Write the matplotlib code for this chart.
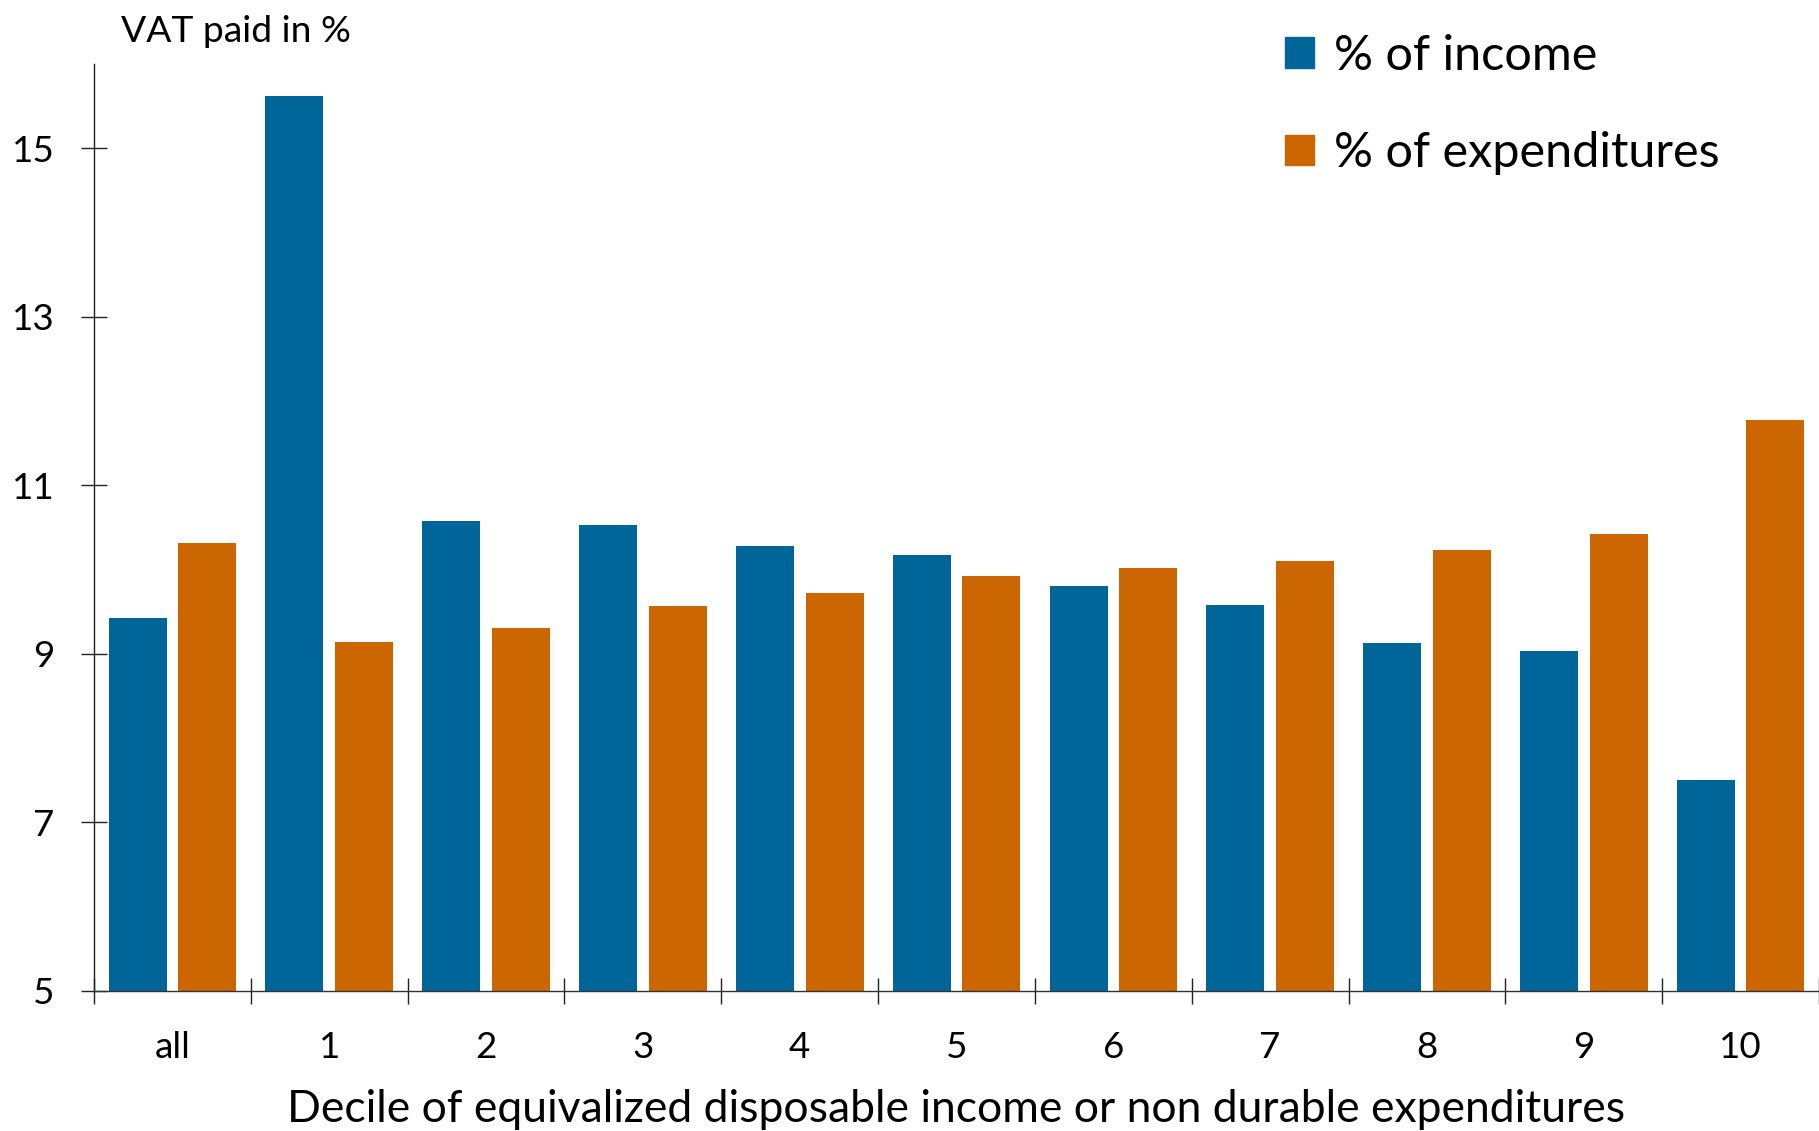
import numpy as np
import matplotlib
matplotlib.use("Agg")
import matplotlib.pyplot as plt
from matplotlib.patches import Patch

plt.rcParams['font.family'] = ['Lato', 'DejaVu Sans']

# data
categories = ["all", "1", "2", "3", "4", "5", "6", "7", "8", "9", "10"]
pct_income = [9.42, 15.62, 10.57, 10.53, 10.28, 10.17, 9.81, 9.58, 9.13, 9.03, 7.50]
pct_expend = [10.31, 9.14, 9.31, 9.57, 9.72, 9.92, 10.02, 10.10, 10.23, 10.42, 11.77]

blue = "#006699"
orange = "#CC6600"

fig = plt.figure(figsize=(18.19, 11.31), dpi=100)
ax = fig.add_axes([0.0517, 0.124, 0.9483, 0.8194])

x = np.arange(len(categories))
w = 0.37
off = 0.222
ax.bar(x - off, np.array(pct_income) - 5, w, bottom=5, color=blue, label="% of income")
ax.bar(x + off, np.array(pct_expend) - 5, w, bottom=5, color=orange, label="% of expenditures")

ax.set_xlim(-0.5, len(categories) - 0.5)
ax.set_ylim(5, 16)

for s in ["top", "right"]:
    ax.spines[s].set_visible(False)
for s in ["left", "bottom"]:
    ax.spines[s].set_color("#333333")
    ax.spines[s].set_linewidth(1.0)
ax.spines["left"].set_color("#222222")

ax.set_yticks([5, 7, 9, 11, 13, 15])
ax.tick_params(axis="y", direction="inout", length=19, width=1, color="#222222",
               labelsize=26.5, pad=19)
ax.set_xticks(x)
ax.set_xticklabels(categories)
ax.set_xticks(np.arange(-0.5, len(categories), 1.0), minor=True)
ax.tick_params(axis="x", which="major", length=0, labelsize=26.5, pad=29)
ax.tick_params(axis="x", which="minor", direction="inout", length=19, width=1, color="#222222")

ax.set_xlabel("Decile of equivalized disposable income or non durable expenditures",
              fontsize=32, labelpad=18)

fig.text(0.0665, 0.963, "VAT paid in %", fontsize=26.8, va="baseline", ha="left")

handles = [Patch(color=blue, label="% of income"), Patch(color=orange, label="% of expenditures")]
ax.legend(handles=handles, loc="upper left", bbox_to_anchor=(0.665, 1.08),
          frameon=False, fontsize=35, handlelength=0.6, handleheight=0.6,
          handletextpad=0.4, labelspacing=1.1)

fig.savefig("out.png", dpi=100)
